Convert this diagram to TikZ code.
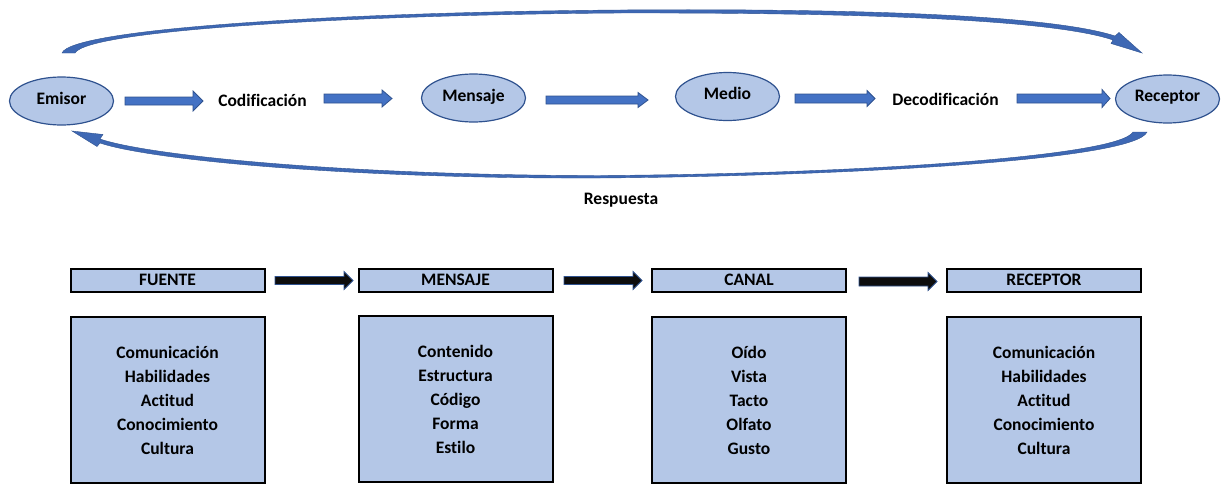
\documentclass[tikz,border=0pt]{standalone}
\usepackage{fontspec}
\setmainfont{Carlito}[Ligatures={NoCommon,NoRare}]
\usetikzlibrary{shapes.geometric}
\definecolor{lblue}{HTML}{B4C7E7}
\definecolor{dblue}{HTML}{2F528F}
\definecolor{mblue}{HTML}{4472C4}
\definecolor{arrblk}{HTML}{0D0D0D}
% block arrow: style, x start, x tip, y centre, shaft half, head half, head length
\newcommand\barr[7]{\filldraw[#1] (#2,#4-#5) -- (#3-#7,#4-#5) -- (#3-#7,#4-#6) -- (#3,#4) -- (#3-#7,#4+#6) -- (#3-#7,#4+#5) -- (#2,#4+#5) -- cycle;}
\begin{document}
\begin{tikzpicture}[x=1pt,y=-1pt,
  every node/.style={font=\fontsize{17.5}{24}\selectfont\bfseries, inner sep=0pt},
  ell/.style={ellipse, draw=dblue, line width=1.2pt, fill=lblue, minimum width=104pt, minimum height=48pt, text depth=6pt},
  hdr/.style={rectangle, draw=black, line width=2pt, fill=lblue, minimum width=194pt, minimum height=23pt},
  body/.style={rectangle, draw=black, line width=2pt, fill=lblue, minimum width=194pt, minimum height=166pt, align=center},
  topar/.style={fill=mblue, draw=dblue, line width=0.8pt},
  botar/.style={fill=arrblk, draw=dblue, line width=0.8pt},
  curv/.style={fill=mblue!70!dblue, draw=dblue, line width=0.4pt}]
\useasboundingbox (0,0) rectangle (1221,485);

% top row
\node[ell] (emisor) at (61.5,101) {Emisor};
\node (cod) at (262.5,100) {Codificación};
\node[ell] (mensaje) at (473.5,98) {Mensaje};
\node[ell] (medio) at (727.5,96.5) {Medio};
\node (decod) at (945.5,99) {Decodificación};
\node[ell] (receptor) at (1167.5,99) {Receptor};
\node (resp) at (621,200) {Respuesta};

\barr{topar}{125}{203}{101}{4}{10}{10}
\barr{topar}{324}{392}{98.5}{4.5}{8.5}{10}
\barr{topar}{546}{648}{100}{4}{7.5}{10}
\barr{topar}{795}{875}{98.5}{4.5}{8}{8}
\barr{topar}{1017}{1110}{98.5}{4.5}{9}{8}

% top curved arrow (Emisor -> Receptor)
\fill[curv] (62,53) .. controls (72,28) and (350,12) .. (620,10)
  .. controls (900,8) and (1060,18) .. (1115,36)
  -- (1119,32.5) -- (1142,53) -- (1111,43.5) -- (1113,40)
  .. controls (1060,22) and (900,12.5) .. (620,13)
  .. controls (350,15) and (88,30) .. (75,53) -- cycle;

% bottom curved arrow (Receptor -> Emisor)
\fill[curv] (1147,132) .. controls (1135,160) and (850,176) .. (600,178)
  .. controls (350,179) and (150,160) .. (100,143)
  -- (97,146.5) -- (72,131) -- (103,134.5) -- (100,139)
  .. controls (150,156) and (350,175.5) .. (600,175.5)
  .. controls (850,174) and (1118,157) .. (1133,132) -- cycle;

% bottom row
\node[hdr] (h1) at (167.5,280) {FUENTE};
\node[hdr] (h2) at (455.5,280) {MENSAJE};
\node[hdr] (h3) at (749,280) {CANAL};
\node[hdr] (h4) at (1044,280) {RECEPTOR};

\node[body] (b1) at (167.5,400) {Comunicación\\Habilidades\\Actitud\\Conocimiento\\Cultura};
\node[body] (b2) at (455.5,399) {Contenido\\Estructura\\Código\\Forma\\Estilo};
\node[body] (b3) at (749,400) {Oído\\Vista\\Tacto\\Olfato\\Gusto};
\node[body] (b4) at (1044,400) {Comunicación\\Habilidades\\Actitud\\Conocimiento\\Cultura};

\barr{botar}{275}{353}{280.5}{4}{9}{9}
\barr{botar}{564}{642}{280.5}{4}{9}{9}
\barr{botar}{859}{937}{281.5}{4.5}{9}{9}
\end{tikzpicture}
\end{document}
